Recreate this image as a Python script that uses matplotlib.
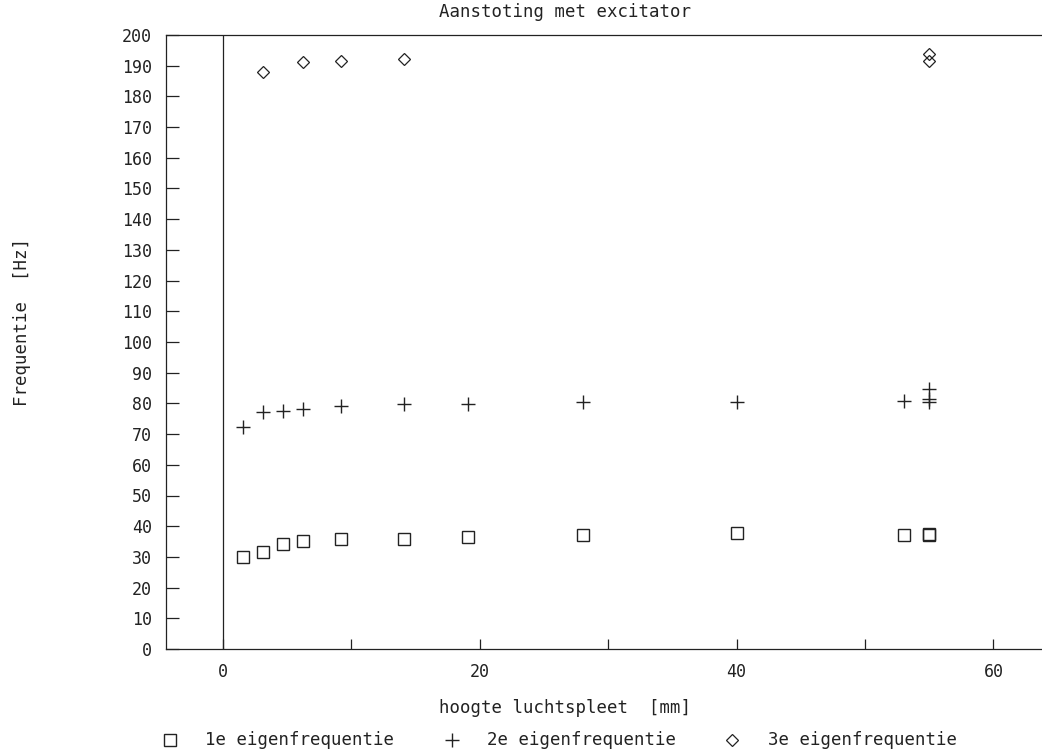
import matplotlib
matplotlib.use('Agg')
from matplotlib import pyplot as plt
from matplotlib.lines import Line2D

# hoogte luchtspleet [mm] en gemeten eigenfrequenties [Hz]
x1 = [1.6, 3.1, 4.7, 6.2, 9.2, 14.1, 19.1, 28.0, 40.0, 53.0, 55.0, 55.0]
f1 = [30.1, 31.7, 34.3, 35.1, 35.7, 35.8, 36.6, 37.2, 37.7, 37.0, 37.5, 37.1]

x2 = [1.6, 3.1, 4.7, 6.2, 9.2, 14.1, 19.1, 28.0, 40.0, 53.0, 55.0, 55.0, 55.0]
f2 = [72.3, 77.2, 77.6, 78.2, 79.3, 79.8, 79.8, 80.6, 80.4, 80.8, 80.5, 81.3, 84.6]

x3 = [3.1, 6.2, 9.2, 14.1, 55.0, 55.0]
f3 = [187.9, 191.1, 191.5, 192.1, 193.8, 191.5]

labels = ['1e eigenfrequentie', '2e eigenfrequentie', '3e eigenfrequentie']
xticks = [0, 10, 20, 30, 40, 50, 60]
yticks = list(range(0, 201, 10))

W, H = 1042, 755
plt.rcParams['font.family'] = ['DejaVu Sans Mono']
col = '#222222'
fs = 12.5

fig = plt.figure(figsize=(W / 100, H / 100), dpi=100)
ax = fig.add_axes([166 / W, (H - 649) / H, (1041 - 166) / W, (649 - 35) / H])

styles = [dict(marker='s', ms=8, mfc='none', mew=1.0),
          dict(marker='+', ms=10, mew=1.0),
          dict(marker='D', ms=6.5, mfc='none', mew=0.9)]

for xs, fs_, st, lab in zip([x1, x2, x3], [f1, f2, f3], styles, labels):
    ax.plot(xs, fs_, ls='none', mec=col, label=lab, **st)
ax.axvline(0, color=col, lw=0.9)

ax.set_xlim(-4.43, 63.7)
ax.set_ylim(0, 200)
ax.set_xticks(xticks)
ax.set_xticklabels([str(t) if t % 20 == 0 else '' for t in xticks])
ax.set_yticks(yticks)
ax.tick_params(axis='x', direction='in', length=7.5, width=0.9, pad=10,
               labelsize=12, colors=col)
ax.tick_params(axis='y', direction='in', length=9.5, width=0.9, pad=10,
               labelsize=12, colors=col)
ax.spines['right'].set_visible(False)
for s in ['left', 'top', 'bottom']:
    ax.spines[s].set_linewidth(0.9)
    ax.spines[s].set_color(col)

fig.text(565 / W, 1 - 12 / H, 'Aanstoting met excitator', ha='center',
         va='center', fontsize=fs, color=col)
fig.text(565 / W, 1 - 708 / H, 'hoogte luchtspleet  [mm]', ha='center',
         va='center', fontsize=fs, color=col)
fig.text(22 / W, 1 - 322 / H, 'Frequentie  [Hz]', ha='center', va='center',
         rotation=90, fontsize=fs, color=col)

# legenda onderaan, handmatig geplaatst
ly = 1 - 740 / H
for mx, tx, st, lab in zip([170, 452, 732], [205, 487, 768], styles, labels):
    fig.add_artist(Line2D([mx / W], [ly], ls='none', mec=col,
                          transform=fig.transFigure, **st))
    fig.text(tx / W, ly, lab, ha='left', va='center', fontsize=fs, color=col)

fig.savefig('out.png', dpi=100)
